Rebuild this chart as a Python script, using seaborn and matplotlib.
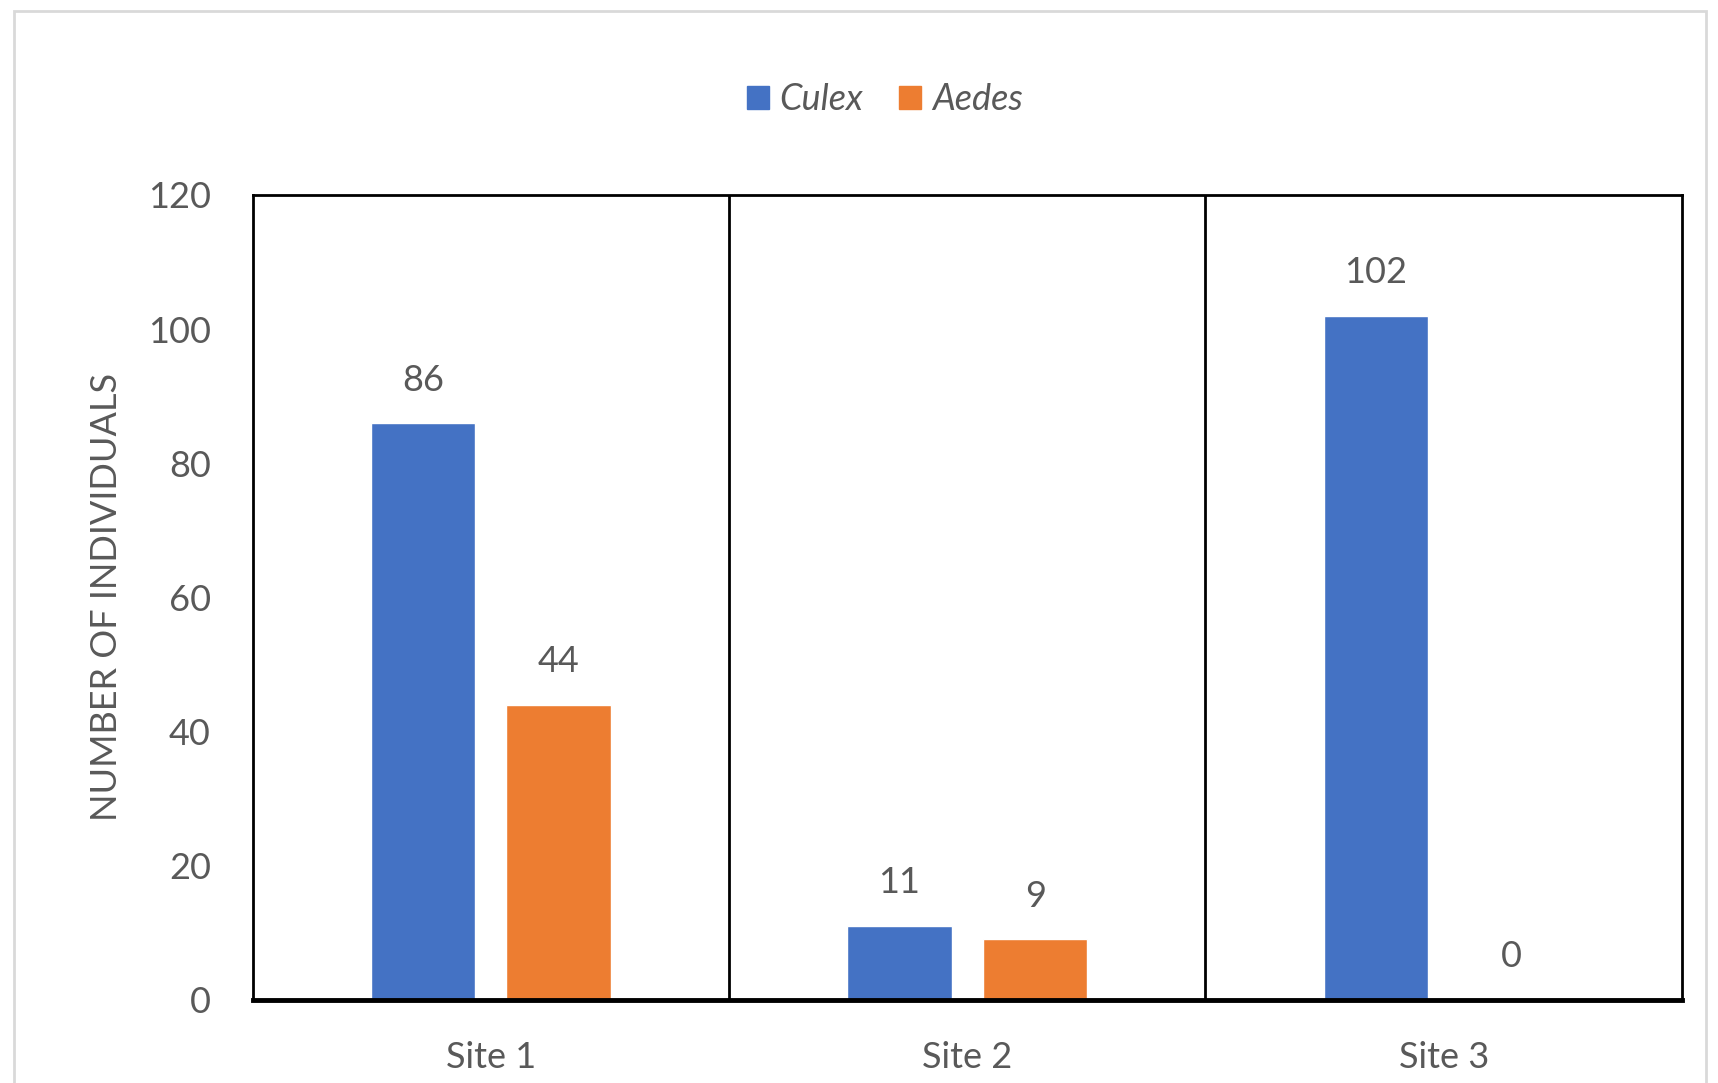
import pandas as pd
import matplotlib.pyplot as plt
import matplotlib.patches as mpatches
import seaborn as sns

# Data
sites = ["Site 1", "Site 2", "Site 3"]
genera = ["Culex", "Aedes"]
culex_counts = [86, 11, 102]
aedes_counts = [44, 9, 0]
y_ticks = [0, 20, 40, 60, 80, 100, 120]

df = pd.DataFrame({
    "site": sites * 2,
    "genus": [genera[0]] * 3 + [genera[1]] * 3,
    "count": culex_counts + aedes_counts,
})

sns.set_theme(style="white")
plt.rcParams["font.family"] = ["Lato", "DejaVu Sans"]

text_grey = "#595959"
palette = {"Culex": "#4472C4", "Aedes": "#ED7D31"}

fig = plt.figure(figsize=(17.18, 10.83), dpi=100)
ax = fig.add_axes([0.147, 0.077, 0.832, 0.743])

sns.barplot(data=df, x="site", y="count", hue="genus", hue_order=genera,
            palette=palette, width=0.57, gap=0.23, saturation=1,
            legend=False, ax=ax)

# value labels above bars
for cont in ax.containers:
    ax.bar_label(cont, padding=19, fontsize=26, color=text_grey)

# separators between sites
for x in [0.5, 1.5]:
    ax.axvline(x, color="black", lw=2)

ax.set_xlim(-0.5, 2.5)
ax.set_ylim(0, 120)
ax.set_yticks(y_ticks)
ax.tick_params(axis="both", length=0, labelsize=26, labelcolor=text_grey)
ax.tick_params(axis="x", pad=30)
ax.tick_params(axis="y", pad=30)
ax.set_xlabel("")
ax.set_ylabel("NUMBER OF INDIVIDUALS", fontsize=26, color=text_grey, labelpad=18)

for side, sp in ax.spines.items():
    sp.set_visible(True)
    sp.set_color("black")
    sp.set_linewidth(2)
ax.spines["bottom"].set_linewidth(3.5)

handles = [mpatches.Patch(color=palette[g], label=g) for g in genera]
leg = fig.legend(handles=handles, loc="center", bbox_to_anchor=(0.515, 0.908),
                 ncol=2, frameon=False, handlelength=0.6, handleheight=0.6,
                 handletextpad=0.3, columnspacing=1.0,
                 prop={"size": 26, "style": "italic"})
for t in leg.get_texts():
    t.set_color(text_grey)

# light frame of the chart area
fig.patches.append(mpatches.Rectangle((0.008, -0.01), 0.985, 1.0, transform=fig.transFigure,
                                      fill=False, edgecolor="#d9d9d9", lw=2))

fig.savefig("out.png", dpi=100)
